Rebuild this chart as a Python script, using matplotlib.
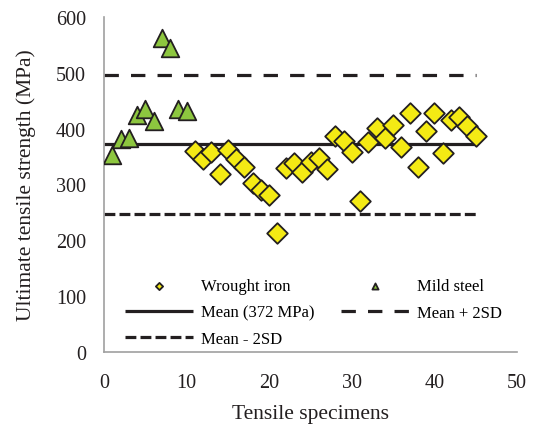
import matplotlib
matplotlib.use("Agg")
import matplotlib.pyplot as plt

steel_x = list(range(1, 11))
steel_y = [352, 382, 383, 425, 436, 414, 562, 544, 436, 431]
iron_x = list(range(11, 46))
iron_y = [360, 346, 358, 318, 362, 346, 331, 303, 291, 282, 213, 330, 338, 323,
          340, 348, 328, 386, 378, 359, 270, 377, 402, 383, 407, 368, 428, 331,
          396, 428, 356, 415, 421, 405, 386]
mean_val = 372
upper_val = 496
lower_val = 248
line_x = [0, 45]

plt.rcParams['font.family'] = ['Liberation Serif', 'DejaVu Serif']

fig = plt.figure(figsize=(5.39, 4.27), dpi=100)
ax = fig.add_axes([104/539, 1-353/427, (517-104)/539, (353-18)/427])

edge = '#231f20'
h_iron = ax.scatter(iron_x, iron_y, marker='D', s=110, c='#f4ea14', edgecolors=edge,
                    linewidths=1.3, zorder=3, label='Wrought iron')
h_steel = ax.scatter(steel_x, steel_y, marker='^', s=160, c='#8dc63f', edgecolors=edge,
                     linewidths=1.3, zorder=3, label='Mild steel')
h_mean, = ax.plot(line_x, [mean_val]*2, color=edge, lw=2.3, solid_capstyle='butt',
                  label='Mean (372 MPa)', zorder=2)
h_up, = ax.plot(line_x, [upper_val]*2, color=edge, lw=2.3, dashes=(4.5, 3.8),
                dash_capstyle='butt', label='Mean + 2SD', zorder=2)
h_lo, = ax.plot(line_x, [lower_val]*2, color=edge, lw=2.3, dashes=(3.4, 1.3),
                dash_capstyle='butt', label='Mean - 2SD', zorder=2)

ax.set_xlim(0, 50)
ax.set_ylim(0, 600)
ax.set_xticks([0, 10, 20, 30, 40, 50])
ax.set_yticks([0, 100, 200, 300, 400, 500, 600])
ax.tick_params(length=0, labelsize=14.5, colors='#231f20')
ax.tick_params(axis='y', pad=13)
ax.tick_params(axis='x', pad=15)
for s in ['top', 'right']:
    ax.spines[s].set_visible(False)
for s in ['left', 'bottom']:
    ax.spines[s].set_color('#a0a0a0')
    ax.spines[s].set_linewidth(1.2)

ax.set_xlabel('Tensile specimens', fontsize=15.5, color='#231f20', labelpad=9)
ax.set_ylabel('Ultimate tensile strength (MPa)', fontsize=15.5, color='#231f20', labelpad=14)

leg = ax.legend(handles=[h_iron, h_mean, h_lo, h_steel, h_up], ncol=2,
                loc='lower left', bbox_to_anchor=(0.014, -0.03), frameon=False,
                fontsize=12, handlelength=4.1, handletextpad=0.45,
                columnspacing=1.6, labelspacing=0.62, markerscale=0.35)
fig.savefig('out.png', dpi=100)
